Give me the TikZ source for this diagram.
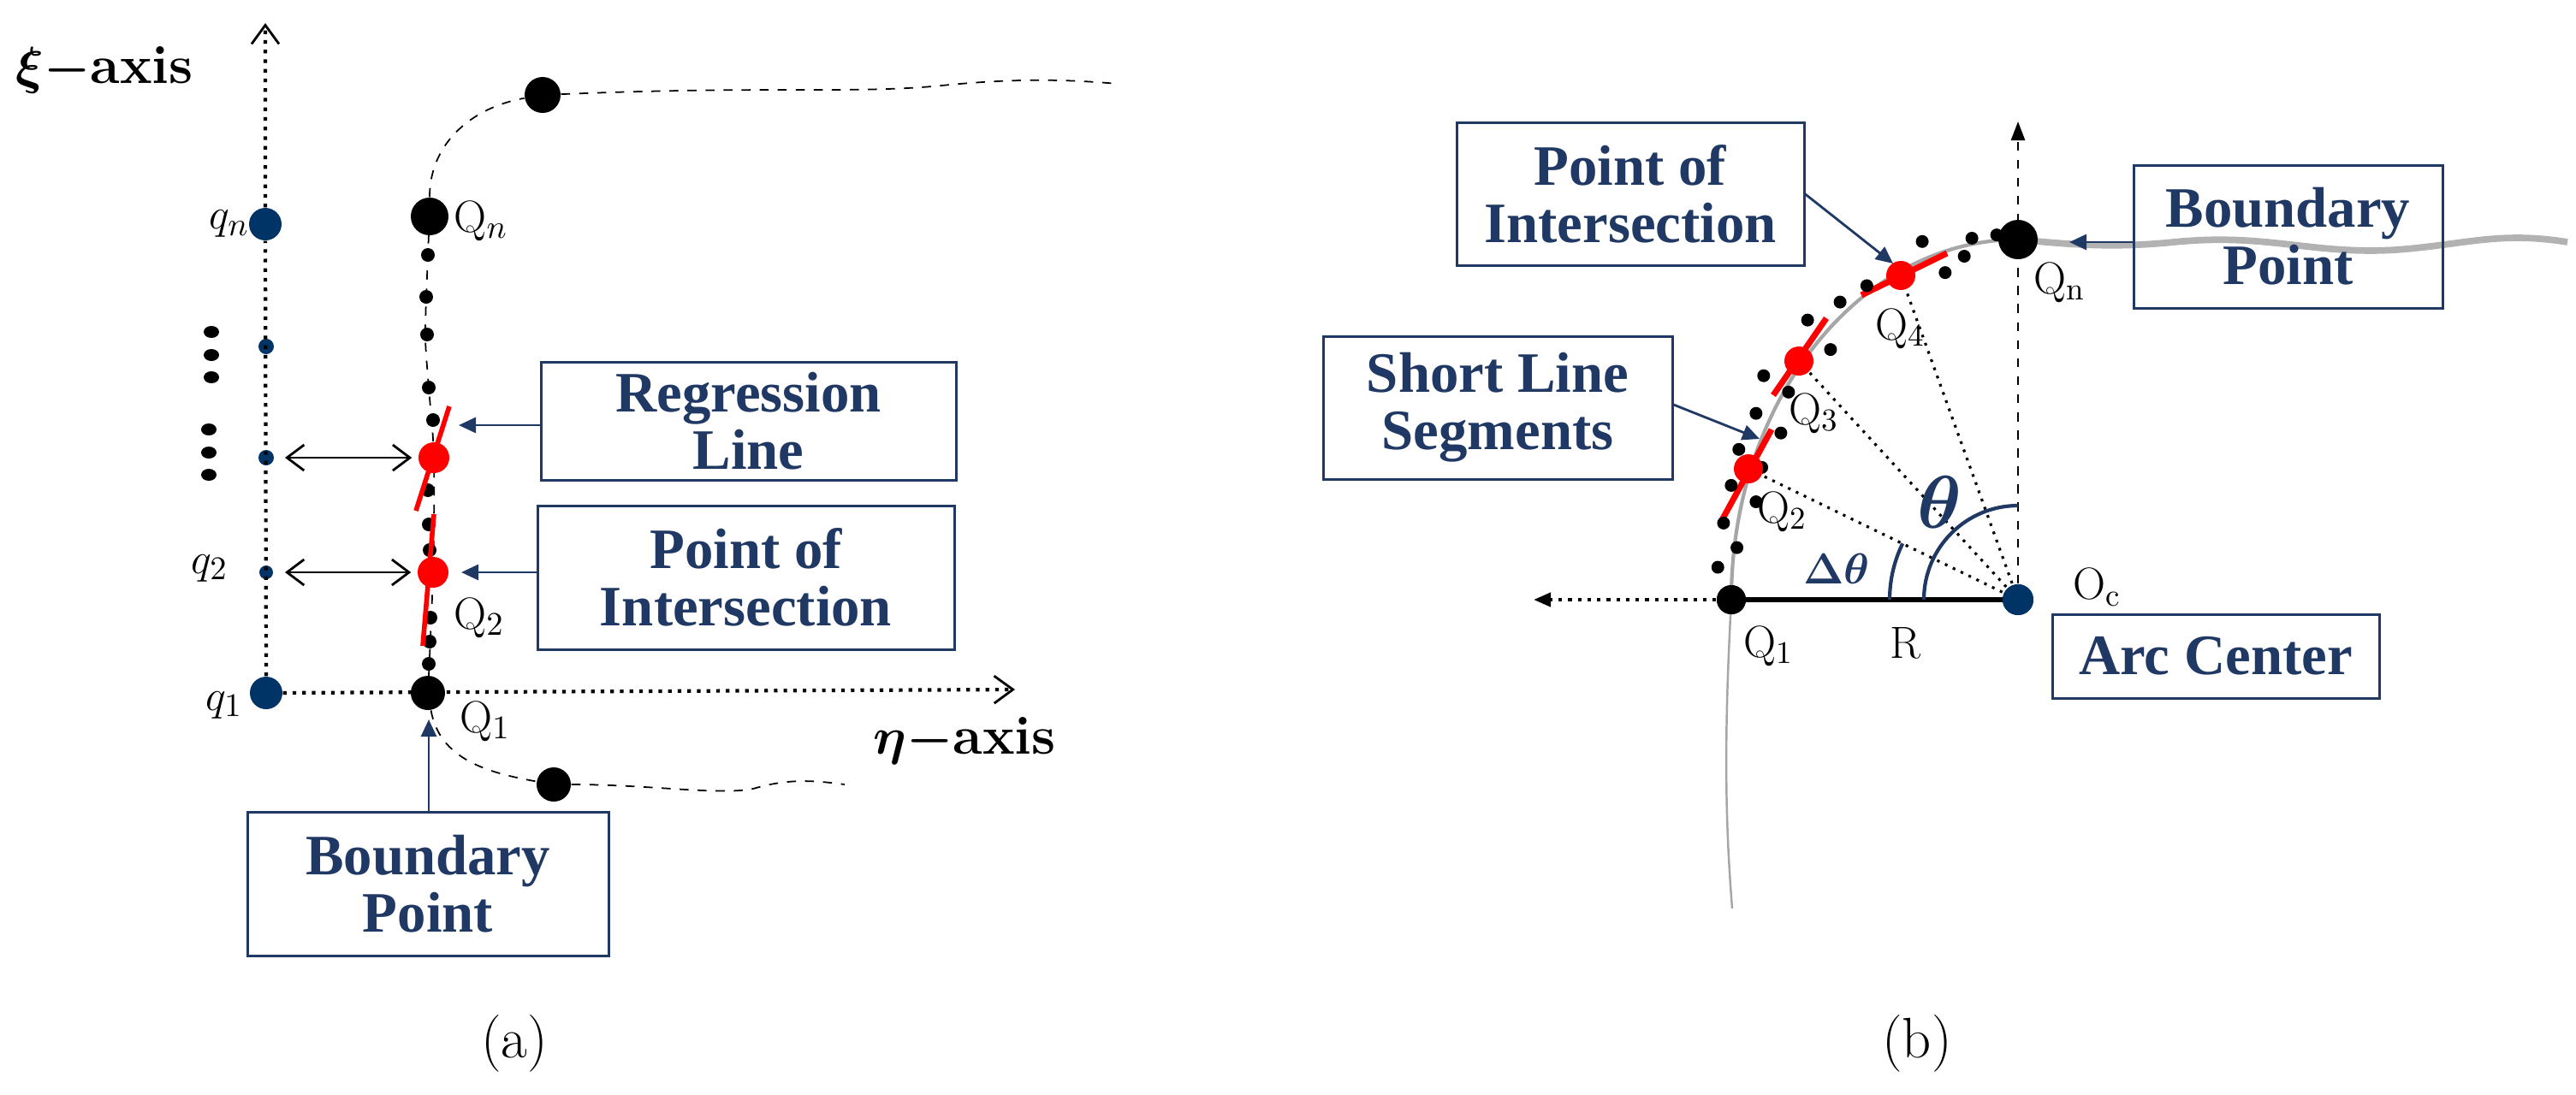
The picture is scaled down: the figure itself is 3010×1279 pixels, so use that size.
\documentclass[tikz,border=0pt]{standalone}
\usepackage{fontspec}
\usepackage{amsmath,bm}
\newfontfamily\tnr{Liberation Serif}
\usetikzlibrary{arrows.meta}
\definecolor{nb}{RGB}{31,56,100}
\definecolor{db}{RGB}{0,51,102}
\begin{document}
\begin{tikzpicture}[x=0.1mm,y=-0.1mm,
  box/.style={draw=nb,line width=0.3mm,text=nb,font=\tnr\bfseries\fontsize{19}{21}\selectfont,align=center,inner sep=0},
  dot/.style={circle,fill=black,inner sep=0,minimum size=#1*0.2mm},
  bdot/.style={circle,fill=db,inner sep=0,minimum size=#1*0.2mm},
  rdot/.style={circle,fill=red,inner sep=0,minimum size=#1*0.2mm},
  lab/.style={font=\fontsize{15}{17}\selectfont,inner sep=0},
  axis/.style={dotted,line width=1.2pt,-{Straight Barb[length=2.2mm,width=3.2mm,line width=0.8pt]}},
  callout/.style={draw=nb,line width=0.8pt,-{Triangle[length=2mm,width=1.8mm]}},
  red seg/.style={red,line width=1.6pt},
  darr/.style={black,line width=0.8pt,{Straight Barb[length=2mm,width=3mm]}-{Straight Barb[length=2mm,width=3mm]}}
]
\useasboundingbox (0,0) rectangle (3010,1279);
% ===== panel (a) =====
\node[bdot=19] (q1) at (311,810) {};
\node[bdot=19] (qn) at (310,262) {};
\node[bdot=9] (qa) at (311,405) {};
\node[bdot=9] (qb) at (311,535) {};
\node[bdot=8] (q2) at (311,669) {};
\coordinate (xitop) at (310,27);
\coordinate (etatip) at (1186,806);
\draw[axis] (q1) -- (qn) -- (xitop);
\draw[axis] (q1) -- (etatip);
\foreach \y in {388,415,441} \fill (247,\y) ellipse (9 and 7);
\foreach \y in {502,529,555} \fill (244,\y) ellipse (9 and 7);
\node[font=\bfseries\fontsize{18}{20}\selectfont,anchor=west,inner sep=0] (xil) at (18,82) {$\bm{\xi-}$axis};
\node[font=\bfseries\fontsize{18}{20}\selectfont,inner sep=0] (etal) at (1127,866) {$\bm{\eta-}$axis};
% boundary curve
\node[dot=22] (Qn) at (502,253) {};
\node[dot=21] (Qt) at (634,111) {};
\node[dot=20] (Q1) at (500,810) {};
\node[dot=20] (Qb) at (647,917) {};
\draw[dashed,line width=0.5pt] (Qn) to[out=90,in=190] (Qt);
\draw[dashed,line width=0.5pt] (Qt) .. controls (900,100) and (1000,110) .. (1100,100) .. controls (1180,92) and (1240,92) .. (1306,98);
\draw[dashed,line width=0.5pt] plot[smooth] coordinates {(502,253)(500,298)(497,391)(501,453)(507,535)(506,669)(500,810)};
\draw[dashed,line width=0.5pt] (Q1) to[out=-80,in=170] (Qb);
\draw[dashed,line width=0.5pt] (Qb) .. controls (760,917) and (840,930) .. (880,922) .. controls (920,910) and (950,912) .. (987,917);
\foreach \x/\y in {500/298,498/347,499/391,501/453,506/491,500/573,501/613,502/643,503/722,502/750,501/776}
  \fill (\x,\y) circle (8);
\draw[red seg] (525,475) -- (486,597);
\draw[red seg] (507,601) -- (494,755);
\node[rdot=18] (R1) at (507,535) {};
\node[rdot=18] (R2) at (506,669) {};
\draw[darr] (qb) ++(22,0) -- ([xshift=-2]R1.west);
\draw[darr] (q2) ++(22,0) -- ([xshift=-2]R2.west);
\node[lab,anchor=east] (qnl) at (292,262) {$q_n$};
\node[lab] (q2l) at (245,664) {$q_2$};
\node[lab] (q1l) at (262,824) {$q_1$};
\node[lab,anchor=west] (Qnl) at (530,258) {$\mathrm{Q}_n$};
\node[lab] (Q2l) at (560,722) {$\mathrm{Q}_2$};
\node[lab] (Q1l) at (567,843) {$\mathrm{Q}_1$};
\node[box,minimum width=485*0.1mm,minimum height=138*0.1mm] (reg) at (874.5,492) {Regression\\[-2pt]Line};
\node[box,minimum width=487*0.1mm,minimum height=168*0.1mm] (poi) at (871.5,675) {Point of\\[-2pt]Intersection};
\node[box,minimum width=422*0.1mm,minimum height=168*0.1mm] (bp) at (500,1033) {Boundary\\[-2pt]Point};
\coordinate (regt) at (536,497);
\coordinate (poit) at (539,669);
\coordinate (bpt) at (501,841);
\draw[callout] (reg.west |- regt) -- (regt);
\draw[callout] (poi.west |- poit) -- (poit);
\draw[callout] (bp.north -| bpt) -- (bpt);
\node[font=\fontsize{19}{21}\selectfont,inner sep=0] (capa) at (601,1220) {(a)};
% ===== panel (b) =====
\node[bdot=18] (Oc) at (2358,701) {};
\node[dot=17] (P1) at (2023,701) {};
\coordinate (vtop) at (2358,142);
\coordinate (hleft) at (1792,701);
\draw[dashed,line width=0.8pt,-{Triangle[length=2.2mm,width=1.6mm]}] (Oc) -- (vtop);
\draw[dotted,line width=1.2pt,-{Triangle[length=2mm,width=1.6mm]}] (P1) -- (hleft);
% gray boundary
\draw[gray!70,line width=1.2pt] (2023,701) arc[start angle=180,end angle=270,x radius=335,y radius=421];
\draw[gray!60,line width=2.2pt] (2358,280) .. controls (2420,286) and (2470,290) .. (2540,283) .. controls (2650,272) and (2700,298) .. (2800,292) .. controls (2880,286) and (2920,270) .. (3000,283);
\draw[gray!70,line width=0.7pt] (2023,701) .. controls (2015,850) and (2015,950) .. (2024,1062);
% radial lines
\coordinate (P2) at (2043,548);
\coordinate (P3) at (2102,422);
\coordinate (P4) at (2221,322);
\draw[dotted,line width=0.9pt] (Oc.center) -- (P2);
\draw[dotted,line width=0.9pt] (Oc.center) -- (P3);
\draw[dotted,line width=0.9pt] (Oc.center) -- (P4);
\draw[red seg,line width=2pt] (2012,608) -- (2070,502);
\draw[red seg,line width=2pt] (2072,462) -- (2134,372);
\draw[red seg,line width=2pt] (2175,345) -- (2275,296);
\foreach \a/\b in {820/215,950/205,1015/195,930/260,880/310,675/350,605/400,520/455,580/545,405/625,470/675,385/740,450/800,340/850,400/905,320/960,385/1010,300/1075,335/1150,285/1210}
  \fill ({1880+\a/2.24},{200+\b/2.613}) circle (7.5);
\node[rdot=17] (P2d) at (P2) {};
\node[rdot=17] (P3d) at (P3) {};
\node[rdot=17] (P4d) at (P4) {};
\draw[line width=1.6pt] (P1.center) -- (Oc.center);
\node[dot=17] at (2023,701) {};
\node[bdot=18] at (2358,701) {};
\node[circle,fill=black,inner sep=0,minimum width=3.8mm,minimum height=4.6mm] (Pn) at (2358,280) {};
% angle arcs
\draw[nb,line width=1.2pt] (2208,701) arc[start angle=180,end angle=206,radius=150];
\draw[nb,line width=1.2pt] (2248,701) arc[start angle=180,end angle=270,radius=110];
\node[text=nb,font=\fontsize{15}{17}\selectfont,inner sep=0] (dtl) at (2146,665) {$\bm{\Delta\theta}$};
\node[text=nb,font=\fontsize{26}{28}\selectfont,inner sep=0] (tl) at (2266,587) {$\bm{\theta}$};
\node[lab] (P1l) at (2067,755) {$\mathrm{Q}_\mathrm{1}$};
\node[lab] (Rl) at (2226,752) {R};
\node[lab] (P2l) at (2083,598) {$\mathrm{Q}_\mathrm{2}$};
\node[lab] (P3l) at (2120,483) {$\mathrm{Q}_\mathrm{3}$};
\node[lab] (P4l) at (2221,384) {$\mathrm{Q}_\mathrm{4}$};
\node[lab] (Pnl) at (2407,330) {$\mathrm{Q}_\mathrm{n}$};
\node[lab] (Ocl) at (2451,686) {$\mathrm{O}_\mathrm{c}$};
\node[box,minimum width=406*0.1mm,minimum height=167*0.1mm] (poib) at (1905,226.5) {Point of\\[-2pt]Intersection};
\node[box,minimum width=408*0.1mm,minimum height=167*0.1mm] (sls) at (1750,476.5) {Short Line\\[-2pt]Segments};
\node[box,minimum width=361*0.1mm,minimum height=167*0.1mm] (bpb) at (2673.5,276.5) {Boundary\\[-2pt]Point};
\node[box,minimum width=382*0.1mm,minimum height=98*0.1mm] (arc) at (2589,767) {Arc Center};
\coordinate (poibt) at (2212,308);
\coordinate (slst) at (2056,513);
\coordinate (bpbt) at (2418,283);
\draw[callout] (poib.east |- 0,227) -- (poibt);
\draw[callout] (sls.east |- 0,473) -- (slst);
\draw[callout] (bpb.west |- bpbt) -- (bpbt);
\node[font=\fontsize{19}{21}\selectfont,inner sep=0] (capb) at (2240,1220) {(b)};
\end{tikzpicture}
\end{document}
